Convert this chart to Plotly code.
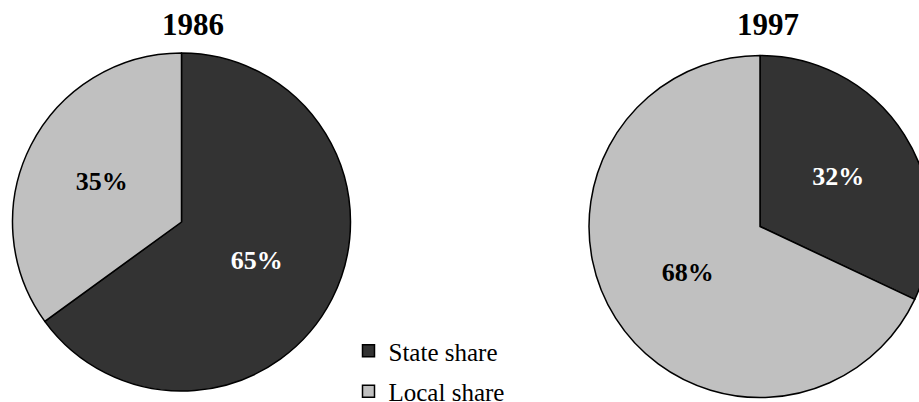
import plotly.graph_objects as go

# Shares of funding by level of government
labels = ["State share", "Local share"]
shares_1986 = [65, 35]
shares_1997 = [32, 68]
years = ["1986", "1997"]

DARK = "#333333"
LIGHT = "#c0c0c0"
SERIF = "Liberation Serif"

# Canvas is a little wider than the window so the 1997 pie runs off the right edge
W, H = 940, 402


def px_domain(x0, x1, y0, y1):
    """Pixel box (top-left origin) -> paper domain."""
    return dict(x=[x0 / W, min(x1 / W, 1.0)], y=[(H - y1) / H, (H - y0) / H])


fig = go.Figure()

pie_common = dict(
    labels=labels,
    sort=False,
    direction="clockwise",
    rotation=0,
    marker=dict(colors=[DARK, LIGHT], line=dict(color="black", width=1.5)),
    texttemplate="<b>%{value}%</b>",
    textposition="inside",
    insidetextorientation="horizontal",
    textfont=dict(family=SERIF, size=26, color=["white", "black"]),
    showlegend=False,
    hoverinfo="label+percent",
)

fig.add_trace(go.Pie(values=shares_1986, domain=px_domain(12.5, 350.5, 53, 391), **pie_common))
fig.add_trace(go.Pie(values=shares_1997, domain=px_domain(589, 931, 55.5, 397.5), **pie_common))

# Legend entries (one group each so the rows can be spaced apart)
for name, color in zip(labels, [DARK, LIGHT]):
    fig.add_trace(go.Scatter(
        x=[None], y=[None], mode="markers", name=name, legendgroup=name,
        marker=dict(symbol="square", size=12, color=color, line=dict(color="black", width=1.5)),
        showlegend=True, hoverinfo="skip",
    ))

for year, xc in zip(years, [193, 768]):
    fig.add_annotation(
        text=f"<b>{year}</b>", x=xc / W, y=(H - 25) / H, xref="paper", yref="paper",
        xanchor="center", yanchor="middle", showarrow=False,
        font=dict(family=SERIF, size=31, color="black"),
    )

fig.update_layout(
    width=W, height=H, autosize=False,
    font=dict(family=SERIF, color="black"),
    margin=dict(l=0, r=0, t=0, b=0, autoexpand=False),
    paper_bgcolor="white", plot_bgcolor="white",
    xaxis=dict(visible=False), yaxis=dict(visible=False),
    legend=dict(
        x=348.5 / W, y=(H - 328) / H, xanchor="left", yanchor="top",
        font=dict(family=SERIF, size=25, color="black"),
        traceorder="grouped", tracegroupgap=5,
        bgcolor="rgba(0,0,0,0)",
    ),
)

fig.write_html(
    "out.html",
    config={"responsive": False},
    post_script="document.documentElement.style.overflow='hidden';document.body.style.overflow='hidden';",
)
